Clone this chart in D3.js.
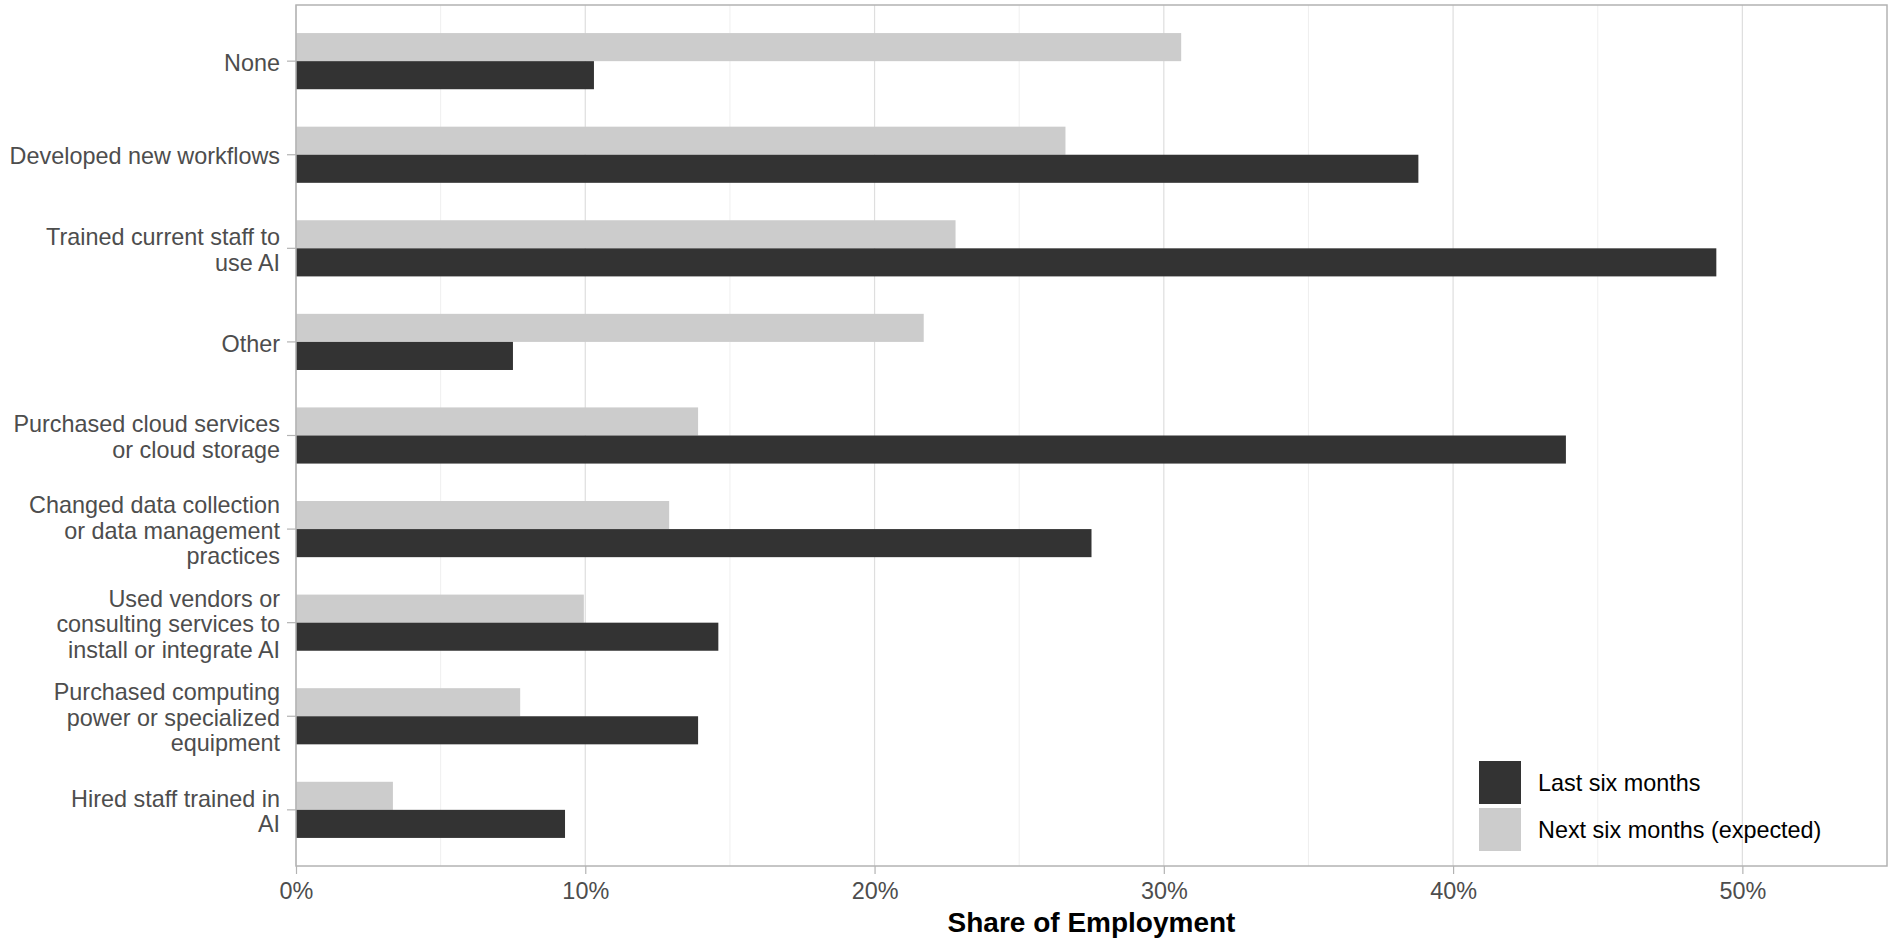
<!DOCTYPE html>
<html>
<head>
<meta charset="utf-8">
<script src="https://cdn.jsdelivr.net/npm/d3@7"></script>
<style>
  html, body { margin: 0; padding: 0; background: #ffffff; }
  svg { display: block; font-family: "Liberation Sans", Arial, Helvetica, sans-serif; }
</style>
</head>
<body>
<svg id="chart" width="1894" height="940"></svg>
<script>
// ---- data ----
const categories = [
  "None",
  "Developed new workflows",
  "Trained current staff to\nuse AI",
  "Other",
  "Purchased cloud services\nor cloud storage",
  "Changed data collection\nor data management\npractices",
  "Used vendors or\nconsulting services to\ninstall or integrate AI",
  "Purchased computing\npower or specialized\nequipment",
  "Hired staff trained in\nAI"
];
const lastSixMonths = [0.103, 0.388, 0.491, 0.075, 0.439, 0.275, 0.146, 0.139, 0.093];
const nextSixMonths = [0.306, 0.266, 0.228, 0.217, 0.139, 0.129, 0.0995, 0.0775, 0.0335];
const seriesNames = ["Last six months", "Next six months (expected)"];
const seriesColors = ["#333333", "#cccccc"];
const xTicks = [0, 0.1, 0.2, 0.3, 0.4, 0.5];
const xMinorTicks = [0.05, 0.15, 0.25, 0.35, 0.45];
const xTitle = "Share of Employment";

// ---- layout ----
const svg = d3.select("#chart");
const panel = { left: 296, right: 1887, top: 5, bottom: 866 };

const x = d3.scaleLinear().domain([0, 0.55]).range([panel.left, panel.right]);
const y = d3.scaleBand().domain(categories).range([panel.top, panel.bottom])
  .paddingInner(0).paddingOuter(0.1);
const step = y.step();
const barH = step * 0.3;

// gridlines
const g = svg.append("g");
g.selectAll("line.minor").data(xMinorTicks).join("line")
  .attr("class", "minor")
  .attr("x1", d => x(d)).attr("x2", d => x(d))
  .attr("y1", panel.top).attr("y2", panel.bottom)
  .attr("stroke", "#ebebeb").attr("stroke-width", 0.8);
g.selectAll("line.major").data(xTicks).join("line")
  .attr("class", "major")
  .attr("x1", d => x(d)).attr("x2", d => x(d))
  .attr("y1", panel.top).attr("y2", panel.bottom)
  .attr("stroke", "#dedede").attr("stroke-width", 1.2);

// bars
const rows = categories.map((c, i) => ({ cat: c, last: lastSixMonths[i], next: nextSixMonths[i] }));
const center = d => y(d.cat) + y.bandwidth() / 2;

svg.append("g").selectAll("rect").data(rows).join("rect")
  .attr("x", x(0)).attr("y", d => center(d) - barH)
  .attr("width", d => x(d.next) - x(0)).attr("height", barH)
  .attr("fill", seriesColors[1]);
svg.append("g").selectAll("rect").data(rows).join("rect")
  .attr("x", x(0)).attr("y", d => center(d))
  .attr("width", d => x(d.last) - x(0)).attr("height", barH)
  .attr("fill", seriesColors[0]);

// panel border
svg.append("rect")
  .attr("x", panel.left).attr("y", panel.top)
  .attr("width", panel.right - panel.left).attr("height", panel.bottom - panel.top)
  .attr("fill", "none").attr("stroke", "#b3b3b3").attr("stroke-width", 1.5);

// x axis
const xAxis = d3.axisBottom(x).tickValues(xTicks).tickFormat(d3.format(".0%"))
  .tickSize(8).tickPadding(8);
const xg = svg.append("g").attr("transform", `translate(0,${panel.bottom})`).call(xAxis);
xg.select(".domain").remove();
xg.selectAll(".tick line").attr("stroke", "#b3b3b3").attr("stroke-width", 1.2);
xg.selectAll(".tick text").attr("fill", "#4d4d4d")
  .style("font-size", "23.4px").style("font-family", "'Liberation Sans', Arial, sans-serif");

// y axis
const yAxis = d3.axisLeft(y).tickSize(9).tickPadding(7);
const yg = svg.append("g").attr("transform", `translate(${panel.left},0)`).call(yAxis);
yg.select(".domain").remove();
yg.selectAll(".tick line").attr("stroke", "#b3b3b3").attr("stroke-width", 1.2);
const lineH = 25.5;
yg.selectAll(".tick text").each(function(d) {
  const t = d3.select(this);
  const lines = d.split("\n");
  t.text(null).attr("dy", null)
    .attr("fill", "#4d4d4d")
    .style("font-size", "23.4px").style("font-family", "'Liberation Sans', Arial, sans-serif");
  const n = lines.length;
  lines.forEach((ln, k) => {
    t.append("tspan").attr("x", -16)
      .attr("y", (k - (n - 1) / 2) * lineH + 1.5)
      .attr("dy", "0.35em").text(ln);
  });
});

// x title
svg.append("text")
  .attr("x", (panel.left + panel.right) / 2).attr("y", 932)
  .attr("text-anchor", "middle")
  .style("font-size", "28px").style("font-weight", "bold").attr("fill", "#000")
  .text(xTitle);

// legend
const legend = svg.append("g").attr("transform", "translate(1479,761)");
const keyW = 42, keyH = 43, keyGap = 4;
seriesNames.forEach((name, i) => {
  const gy = i * (keyH + keyGap);
  legend.append("rect").attr("x", 0).attr("y", gy).attr("width", keyW).attr("height", keyH)
    .attr("fill", seriesColors[i]);
  legend.append("text").attr("x", 59).attr("y", gy + keyH / 2).attr("dy", "0.35em")
    .style("font-size", "23.4px").attr("fill", "#000").text(name);
});
</script>
</body>
</html>
